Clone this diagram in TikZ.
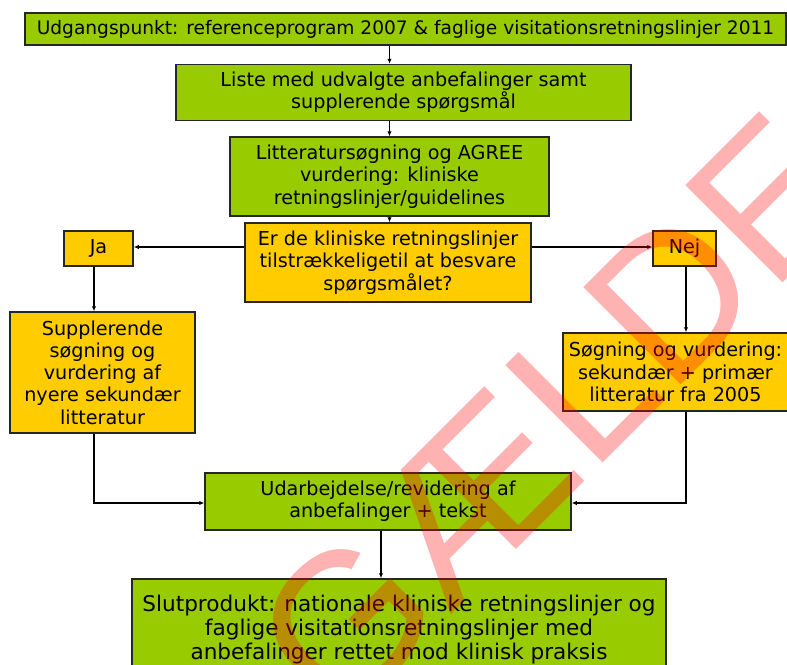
\documentclass[tikz,border=0pt]{standalone}
\usepackage{fontspec}
\setmainfont{DejaVu Sans}
\newfontfamily\wmfont{Liberation Sans}
\usetikzlibrary{arrows.meta}
\definecolor{boxgreen}{RGB}{153,204,0}
\definecolor{boxyellow}{RGB}{255,204,0}
\begin{document}
\begin{tikzpicture}[x=1pt,y=-1pt,
  box/.style={draw=black!85, line width=1.5pt, align=center, inner sep=0pt, text=black},
  gbox/.style={box, fill=boxgreen},
  ybox/.style={box, fill=boxyellow},
  txt/.style={font=\fontsize{#1}{22.3}\selectfont},
  conn/.style={line width=1.1pt, draw=black, -{Latex[length=5pt,width=4.5pt]}},
  wmark/.style={font=\wmfont\fontsize{200}{200}\selectfont, text=red, text opacity=0.3, inner sep=0pt, rotate=45, anchor=base west}
]
\useasboundingbox (0,0) rectangle (787,664);

\node[gbox, txt=18.6, minimum width=761pt, minimum height=32pt] (top) at (405.5,29)
  {Udgangspunkt: referenceprogram 2007 \& faglige visitationsretningslinjer 2011};
\node[gbox, txt=19.2, minimum width=455pt, minimum height=56pt] (liste) at (403.5,92.5)
  {Liste med udvalgte anbefalinger samt\\supplerende spørgsmål};
\node[gbox, txt=19.2, minimum width=319pt, minimum height=79pt] (litt) at (389.5,176.5)
  {Litteratursøgning og AGREE\\vurdering: kliniske\\retningslinjer/guidelines};
\node[ybox, txt=19.2, minimum width=286pt, minimum height=79pt] (dec) at (388,262.5)
  {Er de kliniske retningslinjer\\tilstrækkeligetil at besvare\\spørgsmålet?};
\node[ybox, txt=19.2, minimum width=69pt, minimum height=35pt] (ja) at (98.5,248.5) {Ja};
\node[ybox, txt=19.2, minimum width=63pt, minimum height=35pt] (nej) at (684.5,248.5) {Nej};
\node[ybox, txt=19.2, minimum width=185pt, minimum height=121pt] (supp) at (102.5,372.5)
  {Supplerende\\søgning og\\vurdering af\\nyere sekundær\\litteratur};
\node[ybox, txt=19.2, minimum width=225pt, minimum height=78pt] (soeg) at (675.5,372)
  {Søgning og vurdering:\\sekundær + primær\\litteratur fra 2005};
\node[gbox, txt=19.2, minimum width=366pt, minimum height=57pt] (udarb) at (388,501.5)
  {Udarbejdelse/revidering af\\anbefalinger + tekst};
\node[gbox, font=\fontsize{21.6}{24}\selectfont, minimum width=534pt, minimum height=102pt] (slut) at (399,630)
  {Slutprodukt: nationale kliniske retningslinjer og\\faglige visitationsretningslinjer med\\anbefalinger rettet mod klinisk praksis};

\coordinate (cx) at (389.5,0);
\coordinate (hy) at (0,247);
\coordinate (jx) at (94,0);
\coordinate (nx) at (686,0);
\coordinate (ux) at (381,0);
\coordinate (my) at (0,503);

\draw[conn] (top.south -| cx) -- (liste.north -| cx);
\draw[conn] (liste.south -| cx) -- (litt.north -| cx);
\draw[conn] (litt.south -| cx) -- (dec.north -| cx);
\draw[conn] (dec.west |- hy) -- (ja.east |- hy);
\draw[conn] (dec.east |- hy) -- (nej.west |- hy);
\draw[conn] (ja.south -| jx) -- (supp.north -| jx);
\draw[conn] (nej.south -| nx) -- (soeg.north -| nx);
\draw[conn] (supp.south -| jx) |- (udarb.west |- my);
\draw[conn] (soeg.south -| nx) |- (udarb.east |- my);
\draw[conn] (udarb.south -| ux) -- (slut.north -| ux);

\node[wmark] (wm) at (339.6,726.4) {GÆLDE};
\end{tikzpicture}
\end{document}
